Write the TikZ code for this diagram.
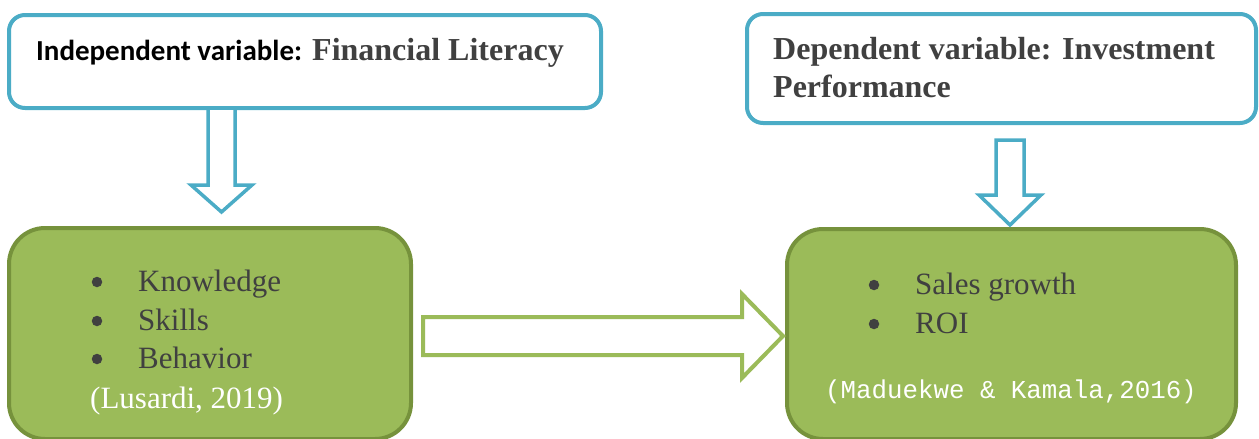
\documentclass[tikz,border=0pt]{standalone}
\usepackage{fontspec}
\setmainfont{Liberation Serif}
\newfontfamily\calibrifont{Carlito}
\newfontfamily\couriertext{Liberation Mono}
\usetikzlibrary{calc}

\definecolor{varblue}{RGB}{75,172,198}
\definecolor{leafgreen}{RGB}{155,187,89}
\definecolor{leafedge}{RGB}{118,146,60}
\definecolor{inkgray}{RGB}{64,64,64}

\tikzset{
  varbox/.style={draw=varblue, line width=4pt, fill=white, rounded corners=16pt, inner sep=0pt},
  factorbox/.style={draw=leafedge, line width=4pt, fill=leafgreen, rounded corners=36pt, inner sep=0pt},
  bluearrow/.style={draw=varblue, line width=3.5pt, fill=white, line join=miter},
  greenarrow/.style={draw=leafgreen, line width=4pt, fill=white, line join=miter},
  txt/.style={anchor=base west, inner sep=0pt},
  headtxt/.style={txt, text=inkgray, font=\bfseries\fontsize{32}{38}\selectfont},
  itemtxt/.style={txt, text=inkgray, font=\fontsize{31}{31}\selectfont},
  dot/.style={circle, fill=inkgray, inner sep=0pt, minimum size=10.5pt},
}

\begin{document}
\begin{tikzpicture}[x=1pt,y=-1pt]
\useasboundingbox (0,0) rectangle (1259,439);
\clip (0,0) rectangle (1259,439);

% variable boxes
\node[varbox, minimum width=592pt, minimum height=93pt] (iv) at (305,61.5) {};
\node[varbox, minimum width=509pt, minimum height=109pt] (dv) at (1001.5,68.5) {};

% indicator boxes
\node[factorbox, minimum width=402pt, minimum height=211pt] (ivf) at (210,333.5) {};
\node[factorbox, minimum width=449pt, minimum height=210pt] (dvf) at (1011.5,334) {};

% box titles
\node[txt, font=\calibrifont\bfseries\fontsize{29}{29}\selectfont] (ivkey) at (36,60) {Independent variable:};
\node[headtxt] (ivname) at (312,60) {Financial Literacy};
\node[headtxt] (dvname1) at (773,59) {Dependent variable: Investment};
\node[headtxt] (dvname2) at (773,97) {Performance};

% financial literacy indicators
\node[dot] (b1) at (97,282) {};
\node[dot] (b2) at (97,321) {};
\node[dot] (b3) at (97,359) {};
\node[itemtxt] (k) at (138,291) {Knowledge};
\node[itemtxt] (s) at (138,330) {Skills};
\node[itemtxt] (b) at (138,368) {Behavior};
\node[itemtxt, text=white] (lus) at (90,408) {(Lusardi, 2019)};

% investment performance indicators
\node[dot] (c1) at (874,285) {};
\node[dot] (c2) at (874,324) {};
\node[itemtxt] (sg) at (915,294) {Sales growth};
\node[itemtxt] (roi) at (915,333) {ROI};
\node[txt, text=white, font=\couriertext\fontsize{25.8}{25.8}\selectfont] (mad) at (825,398) {(Maduekwe \& Kamala,2016)};

% block arrows
\coordinate (a1s) at (221.5,108);
\coordinate (a1t) at (221.5,212);
\draw[bluearrow] (a1s) ++(-13.5,0) -- ++(27,0) -- ++(0,77) -- ++(17,0) -- (a1t)
  -- ++(-30.5,-27) -- ++(17,0) -- cycle;

\coordinate (a2s) at (1010,140);
\coordinate (a2t) at (1010,225);
\draw[bluearrow] (a2s) ++(-14,0) -- ++(28,0) -- ++(0,55) -- ++(17,0) -- (a2t)
  -- ++(-31,-30) -- ++(17,0) -- cycle;

\coordinate (a3s) at (423,336);
\coordinate (a3t) at (783,336);
\draw[greenarrow] (a3s) ++(0,-19) -- ++(319,0) -- ++(0,-23) -- (a3t)
  -- ++(-41,42) -- ++(0,-23) -- ++(-319,0) -- cycle;
\end{tikzpicture}
\end{document}
